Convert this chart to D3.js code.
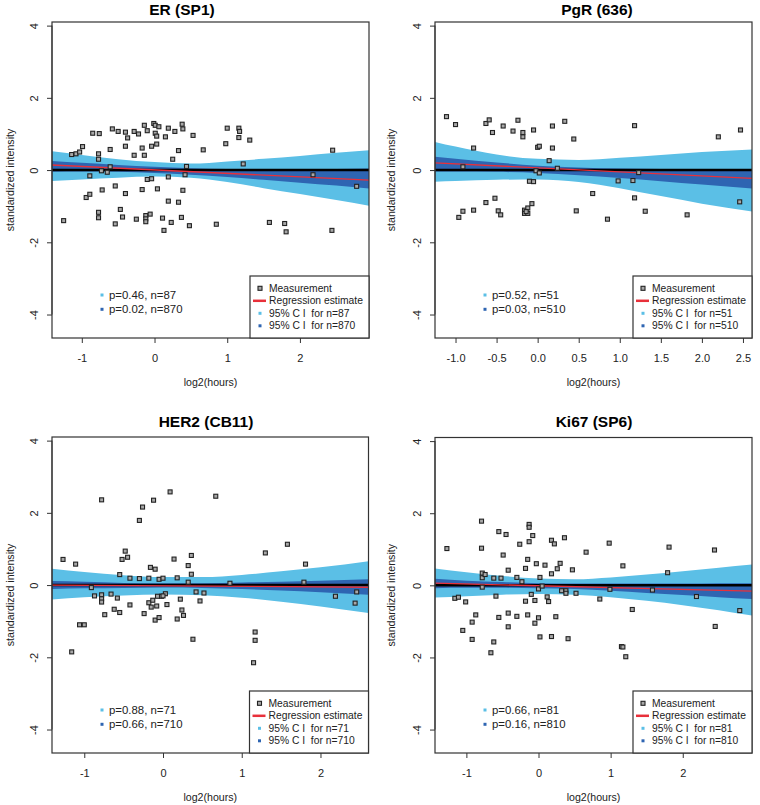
<!DOCTYPE html>
<html><head><meta charset="utf-8">
<script src="https://cdn.jsdelivr.net/npm/d3@7"></script>
<style>html,body{margin:0;padding:0;background:#fff;} svg{display:block;}</style>
</head><body><svg id="c" width="760" height="805"></svg>
<script>
// ---------------- DATA ----------------
const titles = ["ER (SP1)", "PgR (636)", "HER2 (CB11)", "Ki67 (SP6)"];
const yTicks = [-4, -2, 0, 2, 4];
const erXTicks = [-1, 0, 1, 2];
const pgrXTicks = [-1.0, -0.5, 0.0, 0.5, 1.0, 1.5, 2.0, 2.5];
const her2XTicks = [-1, 0, 1, 2];
const ki67XTicks = [-1, 0, 1, 2];
const yAxisLabel = "standardized intensity";
const xAxisLabel = "log2(hours)";

const erPoints = [[-1.25,-1.40],[-1.14,0.43],[-1.08,0.45],[-1.03,0.50],[-0.99,0.65],[-0.94,-0.76],[-0.89,-0.67],[-0.89,-0.16],[-0.85,1.02],[-0.76,1.01],[-0.77,0.45],[-0.77,0.30],[-0.77,-1.17],[-0.77,-1.32],[-0.72,-0.55],[-0.73,-0.02],[-0.65,-0.06],[-0.61,0.09],[-0.61,0.57],[-0.58,1.14],[-0.54,-0.44],[-0.54,-1.49],[-0.50,1.07],[-0.47,-1.09],[-0.44,-1.30],[-0.40,1.05],[-0.37,0.89],[-0.40,0.66],[-0.40,-0.65],[-0.28,1.07],[-0.22,1.00],[-0.28,0.41],[-0.25,-1.36],[-0.17,0.61],[-0.14,1.24],[-0.14,0.41],[-0.17,-0.54],[-0.12,-1.26],[-0.12,-1.35],[-0.12,-1.43],[-0.10,1.09],[-0.10,-0.26],[-0.04,-0.24],[-0.06,-1.22],[-0.01,1.29],[0.01,1.24],[0.06,1.20],[0.01,1.02],[0.03,0.94],[0.03,0.72],[-0.04,0.66],[0.04,-0.52],[0.11,-1.33],[0.13,-1.67],[0.15,0.92],[0.19,1.16],[0.19,-0.19],[0.19,-0.86],[0.23,-1.45],[0.25,0.30],[0.28,1.07],[0.33,0.54],[0.33,-0.89],[0.37,-1.31],[0.38,1.27],[0.39,1.14],[0.39,-0.56],[0.44,0.10],[0.42,-0.13],[0.48,-1.54],[0.53,0.96],[0.67,0.56],[0.85,-1.50],[1.00,1.16],[0.98,0.73],[1.16,1.16],[1.17,1.07],[1.16,0.90],[1.22,0.17],[1.31,0.83],[1.58,-1.45],[1.79,-1.48],[1.81,-1.71],[2.18,-0.13],[2.45,0.55],[2.44,-1.67],[2.78,-0.45]];

const pgrPoints = [[-1.11,1.48],[-1.00,1.26],[-0.78,0.61],[-0.91,0.09],[-0.63,1.29],[-0.59,1.39],[-0.55,1.04],[-0.42,1.22],[-0.30,1.08],[-0.24,1.38],[-0.18,1.04],[-0.18,0.92],[-0.05,1.11],[0.00,0.63],[0.02,0.66],[0.18,1.22],[0.33,1.35],[0.18,0.61],[0.14,0.26],[0.24,0.05],[0.44,0.86],[-0.02,-0.02],[0.02,-0.08],[-0.10,-0.31],[-0.05,-0.32],[0.67,-0.65],[1.18,1.23],[1.23,-0.07],[0.98,-0.30],[1.16,-0.29],[1.18,-0.77],[1.31,-1.14],[0.47,-1.13],[0.85,-1.36],[1.82,-1.24],[2.20,0.92],[2.47,1.11],[2.46,-0.88],[-0.96,-1.31],[-0.91,-1.14],[-0.78,-1.11],[-0.63,-0.90],[-0.52,-0.78],[-0.48,-1.13],[-0.45,-1.24],[-0.16,-1.11],[-0.16,-1.20],[-0.12,-1.05],[-0.12,-1.20],[-0.07,-0.93],[-0.14,-1.15]];

const her2Points = [[-1.27,0.71],[-1.11,0.58],[-1.16,-1.85],[-1.06,-1.10],[-1.00,-1.10],[-0.91,-0.07],[-0.87,-0.30],[-0.78,2.36],[-0.78,-0.27],[-0.78,-0.38],[-0.78,-0.47],[-0.74,-0.82],[-0.66,-0.25],[-0.62,-0.67],[-0.58,-0.36],[-0.55,-0.76],[-0.55,0.29],[-0.52,0.71],[-0.48,0.94],[-0.45,0.77],[-0.42,0.19],[-0.42,-0.55],[-0.30,1.79],[-0.26,2.16],[-0.30,0.18],[-0.24,-0.79],[-0.18,0.19],[-0.18,-0.49],[-0.16,0.49],[-0.15,-0.61],[-0.13,-0.42],[-0.12,2.35],[-0.10,0.44],[-0.08,-0.58],[-0.10,-0.97],[-0.05,0.16],[-0.05,-0.90],[-0.02,-0.31],[0.00,0.19],[0.03,-0.24],[0.05,-0.54],[0.00,-0.30],[0.09,2.58],[0.14,0.72],[0.18,0.20],[0.18,-0.94],[0.22,-0.39],[0.24,-0.69],[0.26,-0.84],[0.32,0.54],[0.36,0.82],[0.36,0.30],[0.32,0.08],[0.38,-1.50],[0.42,-0.19],[0.47,-0.44],[0.52,-0.22],[0.67,2.46],[0.85,0.05],[1.15,-2.15],[1.17,-1.53],[1.17,-1.30],[1.30,0.89],[1.58,1.13],[1.79,0.08],[1.81,0.58],[2.19,-0.31],[2.46,-0.19],[2.44,-0.50],[-0.07,-0.31]];

const ki67Points = [[-1.27,1.02],[-0.79,1.78],[-0.79,1.03],[-0.78,0.34],[-0.78,0.21],[-0.74,0.30],[-0.78,-0.05],[-1.16,-0.36],[-1.11,-0.33],[-1.01,-0.46],[-0.87,-0.82],[-0.92,-1.02],[-1.05,-1.25],[-0.92,-1.50],[-0.62,-1.57],[-0.66,-1.87],[-0.62,0.20],[-0.52,0.20],[-0.59,-0.30],[-0.55,1.49],[-0.45,1.41],[-0.49,0.84],[-0.42,0.42],[-0.55,-0.89],[-0.42,-0.77],[-0.42,-1.15],[-0.30,0.22],[-0.26,1.14],[-0.23,0.10],[-0.30,-0.86],[-0.18,0.47],[-0.15,0.72],[-0.18,-0.44],[-0.15,-0.82],[-0.13,1.69],[-0.13,1.61],[-0.13,1.21],[-0.08,1.38],[-0.10,-0.25],[-0.05,-0.42],[-0.05,-1.05],[-0.03,0.60],[0.00,-0.90],[0.00,-0.10],[0.02,0.22],[0.05,-0.02],[0.02,-1.43],[0.09,0.56],[0.12,-0.32],[0.14,-0.45],[0.18,1.25],[0.22,1.15],[0.18,0.32],[0.26,0.46],[0.30,0.61],[0.18,-1.42],[0.24,-0.87],[0.32,-0.15],[0.38,-0.15],[0.38,-0.22],[0.36,1.32],[0.41,-1.48],[0.47,0.43],[0.52,-0.22],[0.66,0.92],[0.85,-0.38],[0.98,1.17],[0.99,-0.11],[1.17,0.54],[1.15,-1.70],[1.17,-1.71],[1.21,-1.98],[1.30,-0.67],[1.58,-0.13],[1.79,0.35],[1.81,1.06],[2.19,-0.31],[2.44,0.98],[2.45,-1.14],[2.79,-0.70]];

// confidence bands (x grid, lower / upper edges)
const erBandX    = [-1.41,-1.0,-0.5,0,0.5,1.0,1.5,2.0,2.5,2.95];
const erLightHi  = [0.52,0.42,0.30,0.22,0.18,0.24,0.31,0.39,0.48,0.55];
const erLightLo  = [-0.30,-0.26,-0.21,-0.18,-0.21,-0.33,-0.50,-0.66,-0.83,-0.99];
const erDarkHi   = [0.25,0.20,0.14,0.09,0.05,0.03,0.02,0.02,0.03,0.04];
const erDarkLo   = [-0.05,-0.04,-0.05,-0.08,-0.13,-0.19,-0.27,-0.35,-0.43,-0.51];
const erReg      = [[-1.41,0.14],[2.95,-0.28]];

const pgrBandX   = [-1.25,-1.0,-0.5,0,0.5,1.0,1.5,2.0,2.61];
const pgrLightHi = [0.78,0.65,0.43,0.31,0.28,0.34,0.42,0.50,0.57];
const pgrLightLo = [-0.32,-0.30,-0.27,-0.26,-0.33,-0.50,-0.72,-0.93,-1.15];
const pgrDarkHi  = [0.37,0.31,0.21,0.12,0.07,0.04,0.03,0.02,0.02];
const pgrDarkLo  = [-0.04,-0.04,-0.05,-0.08,-0.14,-0.22,-0.31,-0.40,-0.51];
const pgrReg     = [[-1.25,0.20],[2.61,-0.23]];

const her2BandX   = [-1.41,-1.0,-0.5,0,0.5,1.0,1.5,2.0,2.61];
const her2LightHi = [0.45,0.36,0.27,0.22,0.22,0.28,0.38,0.49,0.66];
const her2LightLo = [-0.40,-0.34,-0.29,-0.26,-0.28,-0.35,-0.46,-0.59,-0.77];
const her2DarkHi  = [0.11,0.09,0.06,0.05,0.05,0.07,0.09,0.12,0.16];
const her2DarkLo  = [-0.11,-0.09,-0.08,-0.07,-0.08,-0.11,-0.15,-0.20,-0.27];
const her2Reg     = [[-1.41,0.00],[2.61,-0.06]];

const ki67BandX   = [-1.435,-1.0,-0.5,0,0.5,1.0,1.5,2.0,2.5,2.96];
const ki67LightHi = [0.47,0.36,0.26,0.19,0.17,0.22,0.30,0.39,0.49,0.58];
const ki67LightLo = [-0.34,-0.30,-0.26,-0.24,-0.26,-0.33,-0.43,-0.55,-0.69,-0.84];
const ki67DarkHi  = [0.18,0.13,0.09,0.06,0.05,0.05,0.05,0.05,0.06,0.06];
const ki67DarkLo  = [-0.08,-0.07,-0.07,-0.08,-0.10,-0.15,-0.21,-0.27,-0.33,-0.38];
const ki67Reg     = [[-1.435,0.06],[2.96,-0.16]];

const erStats   = ["p=0.46, n=87", "p=0.02, n=870"];
const pgrStats  = ["p=0.52, n=51", "p=0.03, n=510"];
const her2Stats = ["p=0.88, n=71", "p=0.66, n=710"];
const ki67Stats = ["p=0.66, n=81", "p=0.16, n=810"];
const erN = [87, 870], pgrN = [51, 510], her2N = [71, 710], ki67N = [81, 810];

// ---------------- LAYOUT / STYLE ----------------
const FONT = "'Liberation Sans', Arial, Helvetica, sans-serif";
const LIGHT = "#5bbfe6", DARK = "#2e65b2", RED = "#e8303a";
const yDomain = [-4.65, 4.10];

const panels = [
  {title: titles[0], tx: 182, ty: 9.5, ox: 0,   L: 52,  T: 22,  R: 369, B: 338, xDom: [-1.41, 2.95], xTicks: erXTicks, fmt: d => String(d),
   pts: erPoints, bx: erBandX, lh: erLightHi, ll: erLightLo, dh: erDarkHi, dl: erDarkLo, reg: erReg, stats: erStats, n: erN},
  {title: titles[1], tx: 597, ty: 9.5, ox: 381, L: 435, T: 22,  R: 752, B: 338, xDom: [-1.25, 2.61], xTicks: pgrXTicks, fmt: d => d.toFixed(1),
   pts: pgrPoints, bx: pgrBandX, lh: pgrLightHi, ll: pgrLightLo, dh: pgrDarkHi, dl: pgrDarkLo, reg: pgrReg, stats: pgrStats, n: pgrN},
  {title: titles[2], tx: 206, ty: 422, ox: 0,   L: 52,  T: 437, R: 368.5, B: 753, xDom: [-1.41, 2.61], xTicks: her2XTicks, fmt: d => String(d),
   pts: her2Points, bx: her2BandX, lh: her2LightHi, ll: her2LightLo, dh: her2DarkHi, dl: her2DarkLo, reg: her2Reg, stats: her2Stats, n: her2N},
  {title: titles[3], tx: 594, ty: 422, ox: 381, L: 435, T: 437.5, R: 752, B: 753, xDom: [-1.435, 2.96], xTicks: ki67XTicks, fmt: d => String(d),
   pts: ki67Points, bx: ki67BandX, lh: ki67LightHi, ll: ki67LightLo, dh: ki67DarkHi, dl: ki67DarkLo, reg: ki67Reg, stats: ki67Stats, n: ki67N}
];

const svg = d3.select("#c");

function marker(sel, cx, cy) {
  sel.append("rect").attr("x", cx - 2).attr("y", cy - 2).attr("width", 4).attr("height", 4)
    .attr("fill", "#a8a8a8").attr("stroke", "#222").attr("stroke-width", 1.1);
}

panels.forEach((p, i) => {
  const x = d3.scaleLinear().domain(p.xDom).range([p.L, p.R]);
  const y = d3.scaleLinear().domain(yDomain).range([p.B, p.T]);
  const g = svg.append("g");

  const clipId = "clip" + i;
  g.append("clipPath").attr("id", clipId).append("rect")
    .attr("x", p.L).attr("y", p.T).attr("width", p.R - p.L).attr("height", p.B - p.T);
  const pg = g.append("g").attr("clip-path", `url(#${clipId})`);

  const band = (lo, hi) => d3.area()
    .x((d, j) => x(p.bx[j])).y0((d, j) => y(lo[j])).y1((d, j) => y(hi[j]))
    .curve(d3.curveMonotoneX)(p.bx);
  pg.append("path").attr("d", band(p.ll, p.lh)).attr("fill", LIGHT);
  pg.append("path").attr("d", band(p.dl, p.dh)).attr("fill", DARK);

  pg.append("line").attr("x1", p.L).attr("x2", p.R).attr("y1", y(0)).attr("y2", y(0))
    .attr("stroke", "#000").attr("stroke-width", 2.5);
  pg.append("path").attr("d", d3.line().x(d => x(d[0])).y(d => y(d[1]))(p.reg))
    .attr("stroke", RED).attr("stroke-width", 1.3).attr("fill", "none");

  const mg = pg.append("g");
  p.pts.forEach(d => marker(mg, x(d[0]), y(d[1])));

  // axes
  const ya = g.append("g").attr("transform", `translate(${p.L},0)`)
    .call(d3.axisLeft(y).tickValues(yTicks).tickSize(5).tickFormat(d => String(d)));
  ya.select(".domain").remove();
  ya.selectAll("line").attr("stroke", "#333");
  ya.selectAll("text").attr("transform", "rotate(-90)").attr("x", 0).attr("y", -18).attr("dy", "0.35em")
    .attr("text-anchor", "middle").style("font-family", FONT).style("font-size", "11px").attr("fill", "#222");
  g.append("line").attr("x1", p.L).attr("x2", p.L).attr("y1", y(4)).attr("y2", y(-4)).attr("stroke", "#333");

  const xa = g.append("g").attr("transform", `translate(0,${p.B})`)
    .call(d3.axisBottom(x).tickValues(p.xTicks).tickSize(5).tickFormat(p.fmt));
  xa.select(".domain").remove();
  xa.selectAll("line").attr("stroke", "#333");
  xa.selectAll("text").attr("y", 20).attr("dy", "0.35em")
    .style("font-family", FONT).style("font-size", "11px").attr("fill", "#222");

  // box
  g.append("rect").attr("x", p.L).attr("y", p.T).attr("width", p.R - p.L).attr("height", p.B - p.T)
    .attr("fill", "none").attr("stroke", "#333").attr("stroke-width", 1.2);

  // title & labels
  g.append("text").attr("x", p.tx).attr("y", p.ty).attr("dy", "0.35em").attr("text-anchor", "middle")
    .style("font-family", FONT).style("font-size", "15.5px").style("font-weight", "bold").text(p.title);
  g.append("text").attr("x", (p.L + p.R) / 2).attr("y", p.B + 44).attr("dy", "0.35em").attr("text-anchor", "middle")
    .style("font-family", FONT).style("font-size", "10.6px").attr("fill", "#222").text(xAxisLabel);
  g.append("text").attr("transform", `translate(${p.ox + 10},${(p.T + p.B) / 2}) rotate(-90)`).attr("dy", "0.35em")
    .attr("text-anchor", "middle").style("font-family", FONT).style("font-size", "10.6px").attr("fill", "#222").text(yAxisLabel);

  // p-value annotations
  [LIGHT, DARK].forEach((c, k) => {
    const yy = p.B - 43 + k * 14.3;
    g.append("rect").attr("x", p.L + 48.5).attr("y", yy - 1.5).attr("width", 3).attr("height", 3).attr("fill", c);
    g.append("text").attr("x", p.L + 57).attr("y", yy).attr("dy", "0.35em")
      .style("font-family", FONT).style("font-size", "11.4px").attr("fill", "#222").text(p.stats[k]);
  });

  // legend
  const lx = p.R - 119, ly = p.B - 62;
  g.append("rect").attr("x", lx).attr("y", ly).attr("width", p.R - lx).attr("height", p.B - ly)
    .attr("fill", "#fff").attr("stroke", "#333").attr("stroke-width", 1.2);
  const labels = ["Measurement", "Regression estimate", `95% C I  for n=${p.n[0]}`, `95% C I  for n=${p.n[1]}`];
  labels.forEach((t, k) => {
    const yy = ly + 12.3 + k * 12.5;
    if (k === 0) marker(g, lx + 10, yy);
    else if (k === 1) g.append("line").attr("x1", lx + 3).attr("x2", lx + 16).attr("y1", yy).attr("y2", yy)
      .attr("stroke", RED).attr("stroke-width", 2.5);
    else g.append("rect").attr("x", lx + 8.5).attr("y", yy - 1.5).attr("width", 3).attr("height", 3)
      .attr("fill", k === 2 ? LIGHT : DARK);
    g.append("text").attr("x", lx + 19).attr("y", yy).attr("dy", "0.35em")
      .style("font-family", FONT).style("font-size", "10.3px").style("white-space", "pre").attr("fill", "#222").text(t);
  });
});
</script>
</body></html>
